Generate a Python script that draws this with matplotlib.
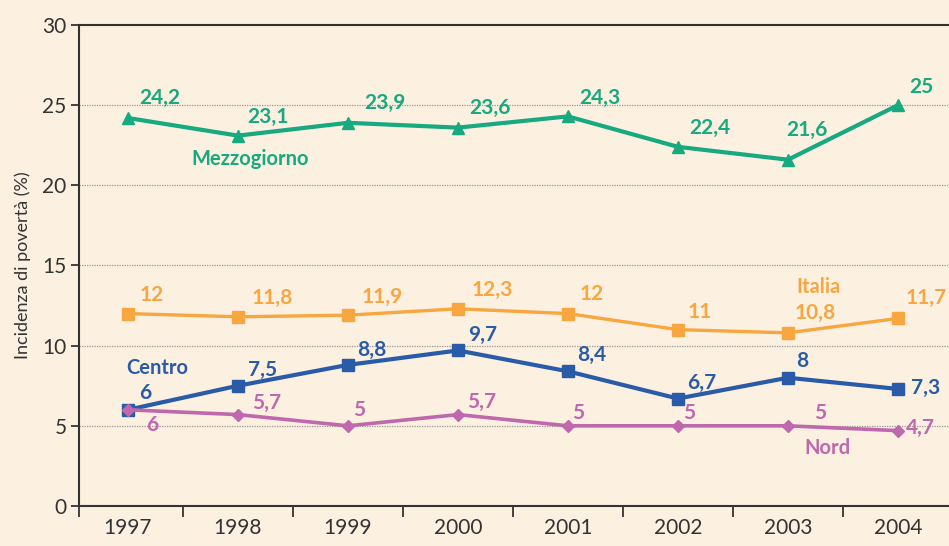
import matplotlib
matplotlib.use("Agg")
import matplotlib.pyplot as plt

# Incidenza di povertà per ripartizione, 1997-2004
anni = ['1997', '1998', '1999', '2000', '2001', '2002', '2003', '2004']
mezzogiorno = [24.2, 23.1, 23.9, 23.6, 24.3, 22.4, 21.6, 25]
italia = [12, 11.8, 11.9, 12.3, 12, 11, 10.8, 11.7]
centro = [6, 7.5, 8.8, 9.7, 8.4, 6.7, 8, 7.3]
nord = [6, 5.7, 5, 5.7, 5, 5, 5, 4.7]

# colore, marker, spessore, offset etichette (pixel), posizione del nome
serie = [
    ('Mezzogiorno', mezzogiorno, '#17A97F', '^', 9, 3.0,
     [(32, 20), (30, 19), (37, 20), (32, 20), (32, 18), (32, 19), (19, 30), (23, 18)],
     (1.11, 21.65)),
    ('Italia', italia, '#F8A640', 's', 8, 2.4,
     [(24, 19), (34, 19), (34, 18), (34, 19), (24, 20), (22, 18), (27, 20), (28, 20)],
     (6.275, 13.66)),
    ('Centro', centro, '#2A5BA8', 's', 8.5, 3.0,
     [(17, 17), (25, 16), (24, 15), (25, 15), (24, 16), (24, 16), (14, 17), (28, 1)],
     (0.264, 8.61)),
    ('Nord', nord, '#BF68AD', 'D', 6, 2.6,
     [(24, -15), (29, 12), (11, 16), (24, 13), (10, 13), (11, 13), (32, 13), (23, 3)],
     (6.355, 3.62)),
]

sfondo = '#FCF0E1'
scuro = '#333333'
fig = plt.figure(figsize=(9.49, 5.46), dpi=100, facecolor=sfondo)
ax = fig.add_axes([0.0832, 0.0733, 0.9168, 0.8809], facecolor=sfondo)

x = list(range(len(anni)))
for nome, valori, colore, marker, ms, lw, offset, pos_nome in serie:
    ax.plot(x, valori, color=colore, marker=marker, markersize=ms, linewidth=lw,
            solid_joinstyle='round', zorder=3)
    for xi, v, (dx, dy) in zip(x, valori, offset):
        testo = f'{v:g}'.replace('.', ',')
        ax.annotate(testo, (xi, v), xytext=(dx, dy), textcoords='offset pixels',
                    ha='center', va='center', color=colore, fontsize=15,
                    fontweight='bold', family='Lato', zorder=4)
    ax.text(pos_nome[0], pos_nome[1], nome, ha='center', va='center', color=colore,
            fontsize=14.5, fontweight='bold', family='Lato', zorder=4)

# assi
ax.set_xlim(-0.445, 7.464)
ax.set_ylim(0, 30)
ax.set_yticks(range(0, 31, 5))
ax.set_xticks([-0.445] + [i + 0.5 for i in range(7)])
ax.set_xticklabels([])
ax.set_xticks(x, minor=True)
ax.set_xticklabels(anni, minor=True)
ax.tick_params(axis='x', which='major', length=8, width=1.3, color=scuro)
ax.tick_params(axis='x', which='minor', length=0, pad=9, labelsize=15, labelcolor=scuro)
ax.tick_params(axis='y', length=6, width=1.3, color=scuro, pad=3,
               labelsize=15, labelcolor=scuro)
for lab in ax.get_xticklabels(minor=True) + ax.get_yticklabels():
    lab.set_family('Lato')
    lab.set_fontweight('normal')

for s in ['left', 'bottom', 'top']:
    ax.spines[s].set_color(scuro)
    ax.spines[s].set_linewidth(1.5)
ax.spines['right'].set_visible(False)

for g in range(5, 30, 5):
    ax.axhline(g, color='#9A9590', linewidth=0.9, linestyle=(0, (1, 1)), zorder=1)

ax.set_ylabel('Incidenza di povertà (%)', fontsize=13, color=scuro,
              family='Lato', fontweight='normal', labelpad=8)

fig.savefig('out.png', dpi=100, facecolor=sfondo)
